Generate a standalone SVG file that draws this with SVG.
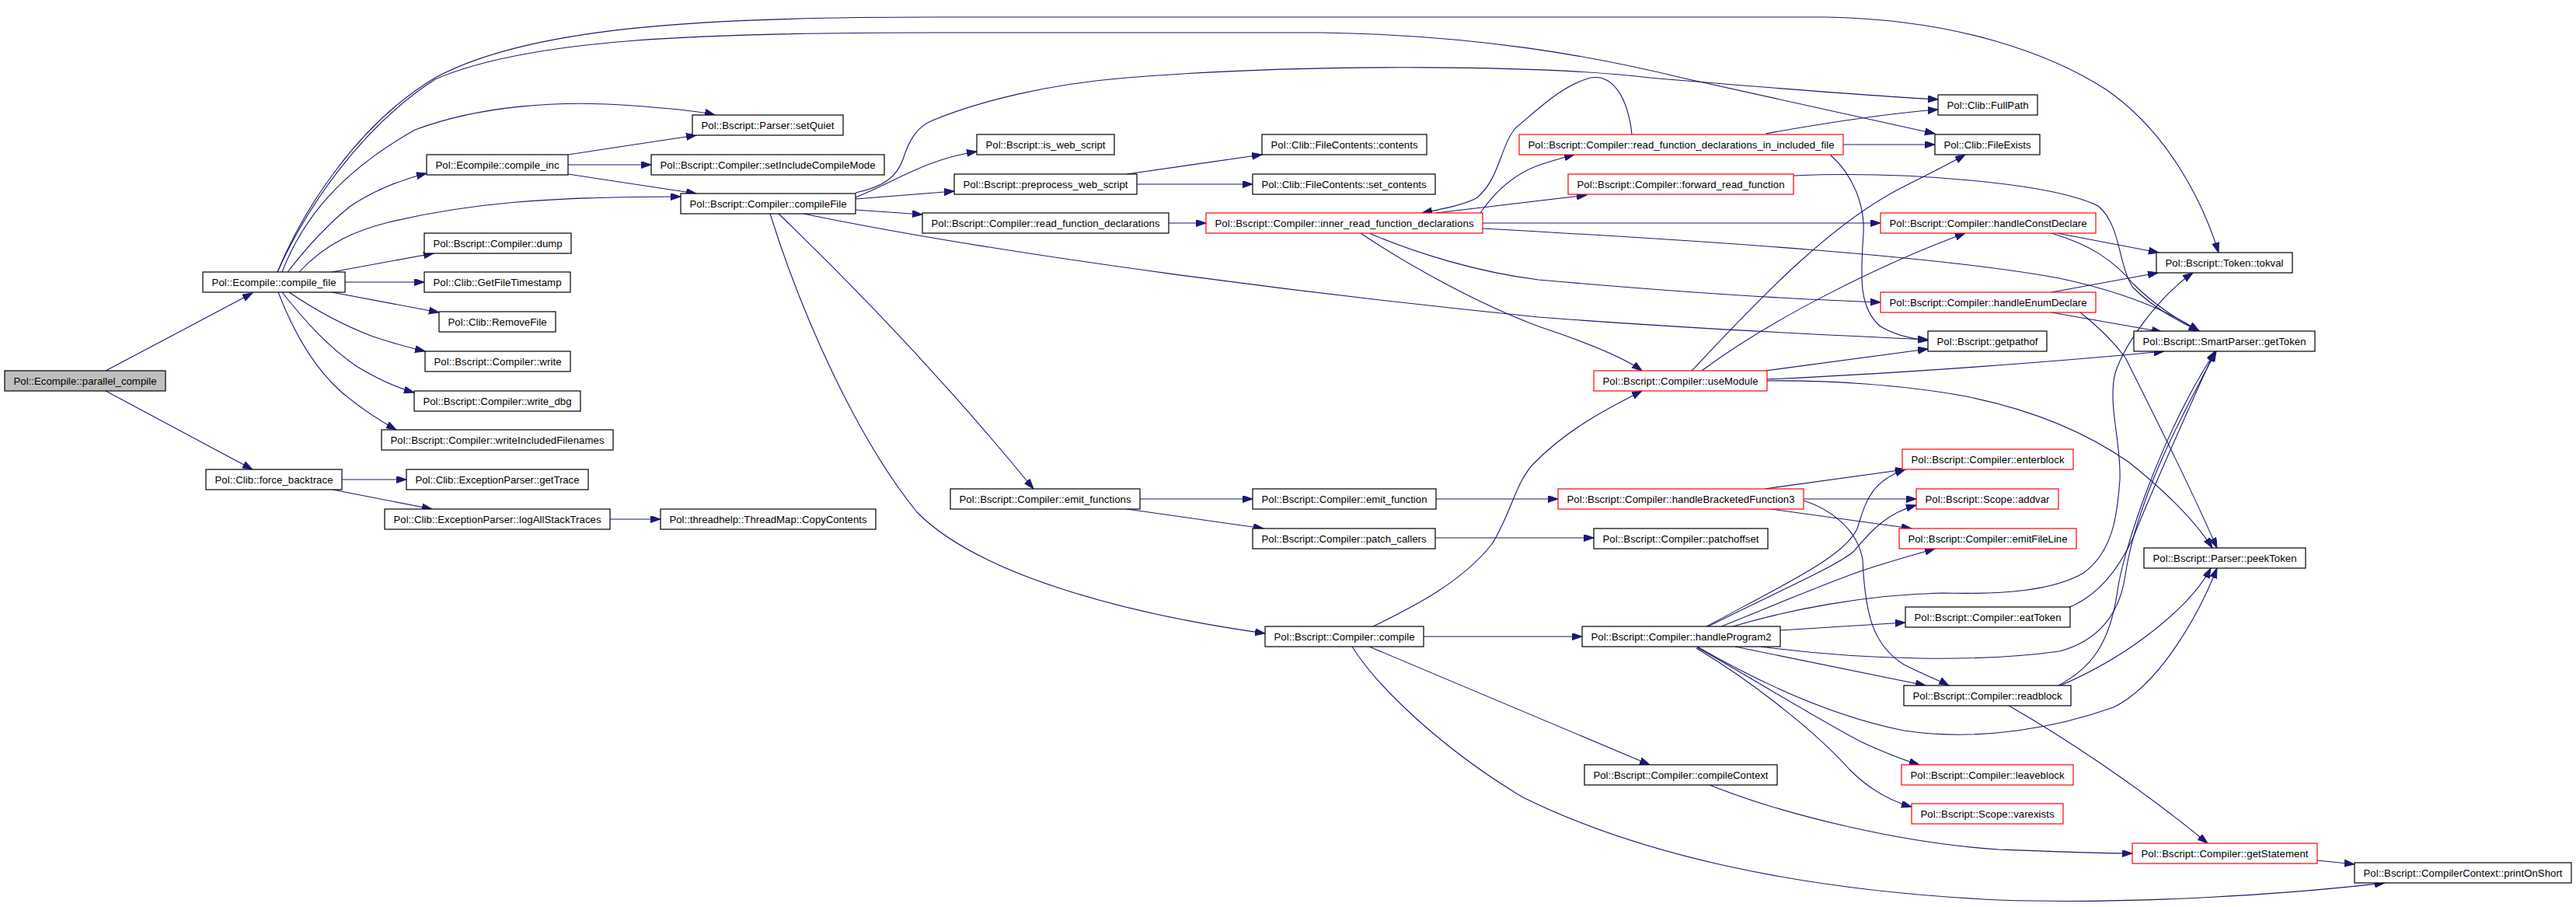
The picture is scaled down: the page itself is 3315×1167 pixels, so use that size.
<svg xmlns="http://www.w3.org/2000/svg" width="3315" height="1167" viewBox="0 0 3315 1167">
<defs>
<marker id="ah" markerUnits="userSpaceOnUse" markerWidth="14" markerHeight="10" refX="13" refY="4.5" orient="auto">
<path d="M0,0 L13,4.5 L0,9 z" fill="#191970" stroke="#191970" stroke-width="1"/>
</marker>
<style>
.n rect{fill:#fff;stroke:#000;stroke-width:1.2}
.r rect{fill:#fff;stroke:#ff0000;stroke-width:1.2}
.g rect{fill:#bfbfbf;stroke:#000;stroke-width:1.2}
text{font-family:"Liberation Sans",Arial,sans-serif;font-size:13.2px;fill:#000;text-anchor:middle}
#edges path{fill:none;stroke:#191970;stroke-width:1.1;marker-end:url(#ah)}
</style>
</defs>
<rect x="0" y="0" width="3315" height="1167" fill="#fff"/>
<g id="edges">
<path d="M136,477 L325,377"/>
<path d="M136,503 L325,604"/>
<path d="M363,350 C390,280 440,220 534,167 C620,135 720,130 800,135 C860,139 900,143 920,148"/>
<path d="M370,350 C395,318 420,290 450,266 C480,245 520,230 549,223"/>
<path d="M385,350 C420,312 460,296 500,286 C600,262 700,253 876,253"/>
<path d="M427,350 L558,326"/>
<path d="M444,363 L546,363"/>
<path d="M427,376 L565,402"/>
<path d="M372,376 C400,395 440,418 480,433 C510,443 530,448 547,452"/>
<path d="M363,376 C390,410 420,445 460,472 C490,490 515,500 533,505"/>
<path d="M358,376 C375,420 400,470 440,505 C470,530 490,542 510,553"/>
<path d="M357,350 C390,270 460,160 560,100 C680,35 900,22 1200,22 L2350,22 C2520,25 2640,70 2710,115 C2790,170 2835,260 2855,325"/>
<path d="M357,350 C392,272 462,165 560,102 C680,50 900,42 1200,42 L1700,42 C1900,45 2050,72 2164,100 L2490,172"/>
<path d="M440,617 L523,617"/>
<path d="M428,630 L556,655"/>
<path d="M785,668 L850,668"/>
<path d="M731,199 L896,174"/>
<path d="M731,212 L838,212"/>
<path d="M731,224 L896,249"/>
<path d="M1101,248 C1140,240 1155,225 1162,205 C1170,180 1180,163 1200,155 C1260,130 1350,108 1450,100 C1700,80 2000,85 2123,100 C2300,115 2420,124 2494,128"/>
<path d="M1101,254 C1150,235 1190,205 1257,195"/>
<path d="M1101,256 L1228,246"/>
<path d="M1101,270 L1187,276"/>
<path d="M1034,275 C1300,330 1700,380 1980,408 C2200,425 2380,432 2481,437"/>
<path d="M1002,275 C1080,350 1200,470 1330,629"/>
<path d="M991,275 C1030,400 1100,560 1180,659 C1260,740 1450,790 1628,815"/>
<path d="M1450,224 L1624,199"/>
<path d="M1463,237 L1612,237"/>
<path d="M1504,287 L1552,287"/>
<path d="M1848,274 L2042,251"/>
<path d="M1905,274 C1925,245 1950,222 1985,211 C2000,206 2015,202 2026,199"/>
<path d="M2100,173 C2095,125 2075,95 2047,100 C2010,110 1980,140 1950,165 C1930,190 1930,230 1900,255 C1880,265 1850,270 1830,274"/>
<path d="M2272,172 C2350,158 2430,146 2494,141"/>
<path d="M2372,186 L2490,186"/>
<path d="M2355,199 C2385,225 2400,265 2398,300 C2395,350 2390,395 2420,420 C2440,432 2460,436 2481,438"/>
<path d="M2308,226 C2450,220 2640,235 2700,265 C2730,290 2725,340 2745,370 C2770,395 2800,412 2830,426"/>
<path d="M1908,287 L2420,287"/>
<path d="M1908,294 C2200,310 2500,330 2650,358 C2730,375 2790,400 2830,426"/>
<path d="M1762,300 C1820,325 1900,350 1980,360 C2150,375 2300,385 2420,389"/>
<path d="M1751,300 C1810,340 1900,390 1980,420 C2040,440 2090,460 2113,477"/>
<path d="M2177,477 C2250,400 2350,290 2450,240 C2490,220 2510,210 2529,199"/>
<path d="M2190,477 C2280,410 2420,340 2529,300"/>
<path d="M2272,477 L2481,449"/>
<path d="M2274,488 C2450,480 2650,465 2785,452"/>
<path d="M2274,490 C2350,489 2450,495 2530,510 C2620,528 2690,560 2740,595 C2790,635 2825,670 2847,705"/>
<path d="M2647,300 L2778,325"/>
<path d="M2640,300 C2690,315 2720,335 2745,365 C2775,395 2805,412 2830,426"/>
<path d="M2640,376 L2777,351"/>
<path d="M2640,402 L2782,427"/>
<path d="M2677,402 C2700,420 2720,440 2735,460 C2780,550 2820,630 2853,705"/>
<path d="M2664,781 C2700,765 2725,735 2745,692 C2770,630 2810,540 2850,452"/>
<path d="M2649,882 C2690,860 2715,830 2725,760 C2732,710 2780,560 2851,452"/>
<path d="M2266,832 C2400,850 2550,852 2650,838 C2700,825 2728,790 2735,740 C2750,640 2810,530 2852,452"/>
<path d="M2230,806 C2300,785 2400,765 2500,763 C2580,765 2640,760 2680,738 C2720,710 2725,660 2728,617 C2730,570 2712,520 2722,480 C2735,440 2780,380 2822,351"/>
<path d="M2184,832 C2250,870 2350,920 2450,940 C2550,955 2650,935 2720,910 C2780,880 2830,790 2853,731"/>
<path d="M2647,884 C2680,870 2720,850 2760,820 C2800,790 2830,760 2845,731"/>
<path d="M2233,832 L2478,882"/>
<path d="M2291,811 L2452,801"/>
<path d="M2184,833 C2250,870 2330,920 2394,954 C2420,966 2450,978 2470,984"/>
<path d="M2183,834 C2260,880 2340,945 2380,990 C2405,1015 2430,1030 2460,1038"/>
<path d="M2196,806 C2300,750 2375,715 2390,680 C2400,650 2405,620 2452,604"/>
<path d="M2198,806 C2290,760 2360,730 2385,710 C2410,680 2430,660 2466,650"/>
<path d="M2215,806 C2280,780 2350,750 2400,733 C2440,720 2470,712 2490,706"/>
<path d="M2271,629 L2452,604"/>
<path d="M2321,642 L2466,642"/>
<path d="M2279,655 L2460,680"/>
<path d="M2321,644 C2355,655 2390,680 2397,720 C2400,790 2410,830 2450,855 C2475,868 2495,875 2508,882"/>
<path d="M1848,642 L2005,642"/>
<path d="M1847,692 L2051,692"/>
<path d="M1467,642 L1612,642"/>
<path d="M1450,655 L1626,680"/>
<path d="M1832,819 L2036,819"/>
<path d="M1762,832 C1850,870 1980,925 2123,984"/>
<path d="M1767,806 C1820,780 1880,750 1920,700 C1945,660 1950,620 1975,595 C2020,550 2070,525 2113,503"/>
<path d="M1740,832 C1770,880 1850,960 1960,1026 C2100,1095 2300,1145 2572,1158 C2750,1164 2950,1150 3069,1136"/>
<path d="M2200,1010 C2300,1050 2450,1085 2572,1093 C2650,1096 2700,1098 2744,1098"/>
<path d="M2585,908 C2650,945 2750,1010 2841,1085"/>
<path d="M2982,1107 L3030,1112"/>
</g>
<g id="n1" class="g"><rect x="6" y="477" width="207" height="26"/><text x="109.5" y="494.7" textLength="184" lengthAdjust="spacing">Pol::Ecompile::parallel_compile</text></g>
<g id="n2" class="n"><rect x="261" y="350" width="183" height="26"/><text x="352.5" y="367.7" textLength="160" lengthAdjust="spacing">Pol::Ecompile::compile_file</text></g>
<g id="n3" class="n"><rect x="265" y="604" width="175" height="26"/><text x="352.5" y="621.7" textLength="152" lengthAdjust="spacing">Pol::Clib::force_backtrace</text></g>
<g id="n4" class="n"><rect x="891" y="148" width="194" height="26"/><text x="988" y="165.7" textLength="171" lengthAdjust="spacing">Pol::Bscript::Parser::setQuiet</text></g>
<g id="n5" class="n"><rect x="549" y="199" width="182" height="26"/><text x="640" y="216.7" textLength="159" lengthAdjust="spacing">Pol::Ecompile::compile_inc</text></g>
<g id="n6" class="n"><rect x="838" y="199" width="300" height="26"/><text x="988" y="216.7" textLength="277" lengthAdjust="spacing">Pol::Bscript::Compiler::setIncludeCompileMode</text></g>
<g id="n7" class="n"><rect x="876" y="249" width="225" height="26"/><text x="988.5" y="266.7" textLength="202" lengthAdjust="spacing">Pol::Bscript::Compiler::compileFile</text></g>
<g id="n8" class="n"><rect x="546" y="300" width="189" height="26"/><text x="640.5" y="317.7" textLength="166" lengthAdjust="spacing">Pol::Bscript::Compiler::dump</text></g>
<g id="n9" class="n"><rect x="546" y="350" width="188" height="26"/><text x="640" y="367.7" textLength="165" lengthAdjust="spacing">Pol::Clib::GetFileTimestamp</text></g>
<g id="n10" class="n"><rect x="565" y="401" width="150" height="26"/><text x="640" y="418.7" textLength="127" lengthAdjust="spacing">Pol::Clib::RemoveFile</text></g>
<g id="n11" class="n"><rect x="547" y="452" width="187" height="26"/><text x="640.5" y="469.7" textLength="164" lengthAdjust="spacing">Pol::Bscript::Compiler::write</text></g>
<g id="n12" class="n"><rect x="533" y="503" width="214" height="26"/><text x="640" y="520.7" textLength="191" lengthAdjust="spacing">Pol::Bscript::Compiler::write_dbg</text></g>
<g id="n13" class="n"><rect x="491" y="553" width="298" height="26"/><text x="640" y="570.7" textLength="275" lengthAdjust="spacing">Pol::Bscript::Compiler::writeIncludedFilenames</text></g>
<g id="n14" class="n"><rect x="523" y="604" width="234" height="26"/><text x="640" y="621.7" textLength="211" lengthAdjust="spacing">Pol::Clib::ExceptionParser::getTrace</text></g>
<g id="n15" class="n"><rect x="495" y="655" width="290" height="26"/><text x="640" y="672.7" textLength="267" lengthAdjust="spacing">Pol::Clib::ExceptionParser::logAllStackTraces</text></g>
<g id="n16" class="n"><rect x="850" y="655" width="277" height="26"/><text x="988.5" y="672.7" textLength="254" lengthAdjust="spacing">Pol::threadhelp::ThreadMap::CopyContents</text></g>
<g id="n17" class="n"><rect x="1257" y="173" width="177" height="26"/><text x="1345.5" y="190.7" textLength="154" lengthAdjust="spacing">Pol::Bscript::is_web_script</text></g>
<g id="n18" class="n"><rect x="1228" y="224" width="235" height="26"/><text x="1345.5" y="241.7" textLength="212" lengthAdjust="spacing">Pol::Bscript::preprocess_web_script</text></g>
<g id="n19" class="n"><rect x="1187" y="274" width="317" height="26"/><text x="1345.5" y="291.7" textLength="294" lengthAdjust="spacing">Pol::Bscript::Compiler::read_function_declarations</text></g>
<g id="n20" class="n"><rect x="1624" y="173" width="212" height="26"/><text x="1730" y="190.7" textLength="189" lengthAdjust="spacing">Pol::Clib::FileContents::contents</text></g>
<g id="n21" class="n"><rect x="1612" y="224" width="235" height="26"/><text x="1729.5" y="241.7" textLength="212" lengthAdjust="spacing">Pol::Clib::FileContents::set_contents</text></g>
<g id="n22" class="r"><rect x="1552" y="274" width="356" height="26"/><text x="1730" y="291.7" textLength="333" lengthAdjust="spacing">Pol::Bscript::Compiler::inner_read_function_declarations</text></g>
<g id="n23" class="r"><rect x="1955" y="173" width="417" height="26"/><text x="2163.5" y="190.7" textLength="394" lengthAdjust="spacing">Pol::Bscript::Compiler::read_function_declarations_in_included_file</text></g>
<g id="n24" class="n"><rect x="2494" y="122" width="128" height="26"/><text x="2558" y="139.7" textLength="105" lengthAdjust="spacing">Pol::Clib::FullPath</text></g>
<g id="n25" class="n"><rect x="2490" y="173" width="135" height="26"/><text x="2557.5" y="190.7" textLength="112" lengthAdjust="spacing">Pol::Clib::FileExists</text></g>
<g id="n26" class="r"><rect x="2018" y="224" width="290" height="26"/><text x="2163" y="241.7" textLength="267" lengthAdjust="spacing">Pol::Bscript::Compiler::forward_read_function</text></g>
<g id="n27" class="r"><rect x="2420" y="274" width="277" height="26"/><text x="2558.5" y="291.7" textLength="254" lengthAdjust="spacing">Pol::Bscript::Compiler::handleConstDeclare</text></g>
<g id="n28" class="r"><rect x="2420" y="376" width="277" height="26"/><text x="2558.5" y="393.7" textLength="254" lengthAdjust="spacing">Pol::Bscript::Compiler::handleEnumDeclare</text></g>
<g id="n29" class="n"><rect x="2481" y="426" width="153" height="26"/><text x="2557.5" y="443.7" textLength="130" lengthAdjust="spacing">Pol::Bscript::getpathof</text></g>
<g id="n30" class="r"><rect x="2051" y="477" width="223" height="26"/><text x="2162.5" y="494.7" textLength="200" lengthAdjust="spacing">Pol::Bscript::Compiler::useModule</text></g>
<g id="n31" class="n"><rect x="2775" y="325" width="175" height="26"/><text x="2862.5" y="342.7" textLength="152" lengthAdjust="spacing">Pol::Bscript::Token::tokval</text></g>
<g id="n32" class="n"><rect x="2746" y="426" width="233" height="26"/><text x="2862.5" y="443.7" textLength="210" lengthAdjust="spacing">Pol::Bscript::SmartParser::getToken</text></g>
<g id="n33" class="n"><rect x="2759" y="705" width="208" height="26"/><text x="2863" y="722.7" textLength="185" lengthAdjust="spacing">Pol::Bscript::Parser::peekToken</text></g>
<g id="n34" class="n"><rect x="1223" y="629" width="244" height="26"/><text x="1345" y="646.7" textLength="221" lengthAdjust="spacing">Pol::Bscript::Compiler::emit_functions</text></g>
<g id="n35" class="n"><rect x="1612" y="629" width="236" height="26"/><text x="1730" y="646.7" textLength="213" lengthAdjust="spacing">Pol::Bscript::Compiler::emit_function</text></g>
<g id="n36" class="n"><rect x="1612" y="680" width="235" height="26"/><text x="1729.5" y="697.7" textLength="212" lengthAdjust="spacing">Pol::Bscript::Compiler::patch_callers</text></g>
<g id="n37" class="n"><rect x="1628" y="806" width="204" height="26"/><text x="1730" y="823.7" textLength="181" lengthAdjust="spacing">Pol::Bscript::Compiler::compile</text></g>
<g id="n38" class="r"><rect x="2005" y="629" width="316" height="26"/><text x="2163" y="646.7" textLength="293" lengthAdjust="spacing">Pol::Bscript::Compiler::handleBracketedFunction3</text></g>
<g id="n39" class="n"><rect x="2051" y="680" width="224" height="26"/><text x="2163" y="697.7" textLength="201" lengthAdjust="spacing">Pol::Bscript::Compiler::patchoffset</text></g>
<g id="n40" class="r"><rect x="2448" y="578" width="220" height="26"/><text x="2558" y="595.7" textLength="197" lengthAdjust="spacing">Pol::Bscript::Compiler::enterblock</text></g>
<g id="n41" class="r"><rect x="2466" y="629" width="183" height="26"/><text x="2557.5" y="646.7" textLength="160" lengthAdjust="spacing">Pol::Bscript::Scope::addvar</text></g>
<g id="n42" class="r"><rect x="2444" y="680" width="228" height="26"/><text x="2558" y="697.7" textLength="205" lengthAdjust="spacing">Pol::Bscript::Compiler::emitFileLine</text></g>
<g id="n43" class="n"><rect x="2452" y="781" width="212" height="26"/><text x="2558" y="798.7" textLength="189" lengthAdjust="spacing">Pol::Bscript::Compiler::eatToken</text></g>
<g id="n44" class="n"><rect x="2036" y="806" width="255" height="26"/><text x="2163.5" y="823.7" textLength="232" lengthAdjust="spacing">Pol::Bscript::Compiler::handleProgram2</text></g>
<g id="n45" class="n"><rect x="2450" y="882" width="215" height="26"/><text x="2557.5" y="899.7" textLength="192" lengthAdjust="spacing">Pol::Bscript::Compiler::readblock</text></g>
<g id="n46" class="n"><rect x="2039" y="984" width="248" height="26"/><text x="2163" y="1001.7" textLength="225" lengthAdjust="spacing">Pol::Bscript::Compiler::compileContext</text></g>
<g id="n47" class="r"><rect x="2447" y="984" width="221" height="26"/><text x="2557.5" y="1001.7" textLength="198" lengthAdjust="spacing">Pol::Bscript::Compiler::leaveblock</text></g>
<g id="n48" class="r"><rect x="2460" y="1034" width="195" height="26"/><text x="2557.5" y="1051.7" textLength="172" lengthAdjust="spacing">Pol::Bscript::Scope::varexists</text></g>
<g id="n49" class="r"><rect x="2744" y="1085" width="238" height="26"/><text x="2863" y="1102.7" textLength="215" lengthAdjust="spacing">Pol::Bscript::Compiler::getStatement</text></g>
<g id="n50" class="n"><rect x="3030" y="1110" width="279" height="26"/><text x="3169.5" y="1127.7" textLength="256" lengthAdjust="spacing">Pol::Bscript::CompilerContext::printOnShort</text></g>
</svg>
